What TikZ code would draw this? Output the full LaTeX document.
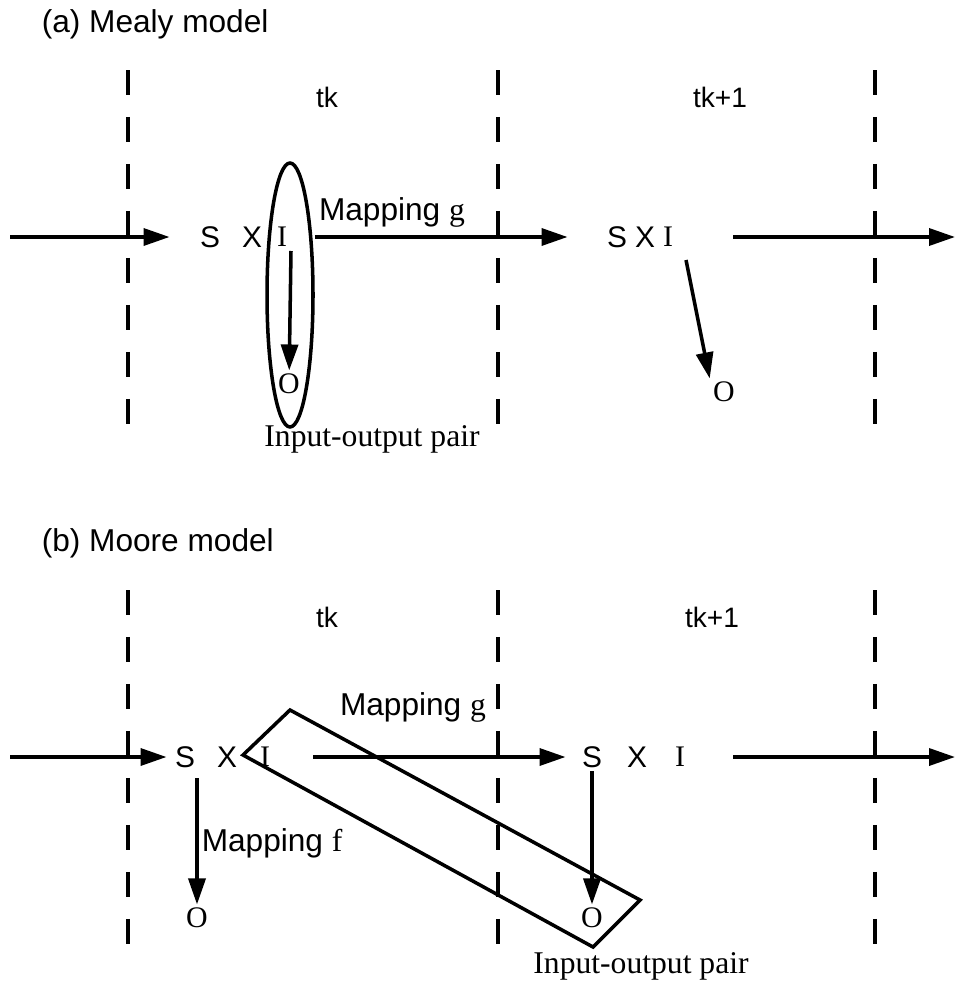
\documentclass[tikz,border=0pt]{standalone}
\usepackage{fontspec}
\setmainfont{Liberation Sans}
\newfontfamily\romfont{Liberation Serif}
\usetikzlibrary{arrows.meta,shapes.geometric}

\begin{document}
\begin{tikzpicture}[x=0.02cm,y=-0.02cm,>={Triangle[length=0.52cm,width=0.34cm]},line width=2pt,
  sep/.style={line width=2pt,dash pattern=on 0.5cm off 0.44cm},
  flow/.style={->},
  hdr/.style={font=\fontsize{18}{20}\selectfont,anchor=west,inner sep=0pt},
  slot/.style={font=\fontsize{16}{18}\selectfont,inner sep=0pt},
  sym/.style={font=\fontsize{17}{19}\selectfont,inner sep=1pt},
  rsym/.style={font=\romfont\fontsize{17}{19}\selectfont,inner sep=1pt},
  maplbl/.style={font=\fontsize{18}{20}\selectfont,inner sep=0pt},
  pairlbl/.style={font=\romfont\fontsize{18}{20}\selectfont,inner sep=0pt}]

\useasboundingbox (0,0) rectangle (961,987);

%% ── (a) Mealy model ─────────────────────────────────────────────
\node[hdr] (titleA) at (40,24) {(a) Mealy model};

\foreach \x in {128,498,875}
  \draw[sep] (\x,70) -- (\x,424);

\node[slot] (tkA) at (327,97) {tk};
\node[slot] (tknA) at (720,97) {tk+1};

%% state x input at t_k
\node[sym] (sA) at (210,237) {S};
\node[sym] (xA) at (252,237) {X};
\node[rsym] (iA) at (282,237) {I};
\node[rsym] (oA) at (289,384) {O};
\node[draw,ellipse,minimum width=0.92cm,minimum height=5.28cm,inner sep=0pt]
  (pairA) at (290,295) {};
\node[pairlbl] (pairlblA) at (372,439) {Input-output pair};

%% state x input at t_k+1
\node[sym] (sA2) at (617,237) {S};
\node[sym] (xA2) at (645,237) {X};
\node[rsym] (iA2) at (668,237) {I};
\node[rsym] (oA2) at (724,392) {O};

\coordinate (inA) at (10,237);
\coordinate (goA) at (291,251);
\coordinate (goA2) at (686,260);
\coordinate (outA) at (733,237);
\coordinate (endA) at (955,237);

\draw[flow,shorten >=0.54cm] (inA) -- (sA);
\draw[flow] (goA) -- (oA);
\draw[flow,shorten >=0.72cm] (pairA.east |- iA) -- (sA2);
\node[maplbl] (mapgA) at (392,212) {Mapping {\romfont g}};
\draw[flow] (goA2) -- (oA2.north west);
\draw[flow] (outA) -- (endA);

%% ── (b) Moore model ─────────────────────────────────────────────
\node[hdr] (titleB) at (40,543) {(b) Moore model};

\foreach \x in {128,498,875}
  \draw[sep] (\x,590) -- (\x,945);

\node[slot] (tkB) at (327,617) {tk};
\node[slot] (tknB) at (712,617) {tk+1};

%% state x input at t_k
\node[sym] (sB) at (185,757) {S};
\node[sym] (xB) at (227,757) {X};
\node[rsym] (iB) at (265,757) {I};
\node[rsym] (oB) at (197,918) {O};

%% state x input at t_k+1
\node[sym] (sB2) at (592,757) {S};
\node[sym] (xB2) at (637,757) {X};
\node[rsym] (iB2) at (680,757) {I};
\node[rsym] (oB2) at (592,918) {O};

%% input-output pair box
\draw (243,755) -- (290,710) -- (640,900) -- (593,947) -- cycle;
\node[pairlbl] (pairlblB) at (641,966) {Input-output pair};

\coordinate (inB) at (10,757);
\coordinate (goB) at (197,778);
\coordinate (gB) at (313,757);
\coordinate (outB) at (733,757);
\coordinate (endB) at (955,757);

\draw[flow,shorten >=0.1cm] (inB) -- (sB);
\draw[flow] (goB) -- (oB);
\node[maplbl,anchor=west] (mapfB) at (200,843) {Mapping {\romfont f}};
\draw[flow,shorten >=0.26cm] (gB) -- (sB2);
\node[maplbl] (mapgB) at (413,707) {Mapping {\romfont g}};
\draw[flow] (sB2) -- (oB2);
\draw[flow] (outB) -- (endB);

\end{tikzpicture}
\end{document}
